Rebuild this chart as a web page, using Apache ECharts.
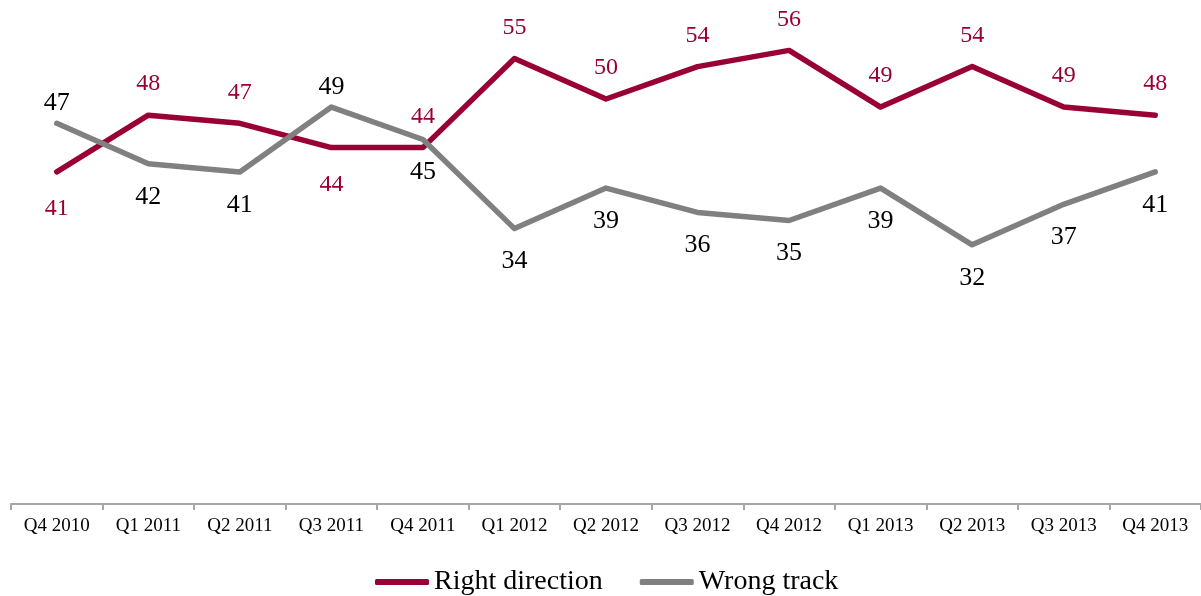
<!DOCTYPE html>
<html>
<head>
<meta charset="utf-8">
<script src="https://cdn.jsdelivr.net/npm/echarts@6/dist/echarts.min.js"></script>
<style>
html,body{margin:0;padding:0;background:#fff;}
#chart{width:1201px;height:596px;}
</style>
</head>
<body>
<div id="chart"></div>
<script>
const categories = ["Q4 2010","Q1 2011","Q2 2011","Q3 2011","Q4 2011","Q1 2012","Q2 2012","Q3 2012","Q4 2012","Q1 2013","Q2 2013","Q3 2013","Q4 2013"];
const rightDirection = [41,48,47,44,44,55,50,54,56,49,54,49,48];
const wrongTrack = [47,42,41,49,45,34,39,36,35,39,32,37,41];
const rightBelowIdx = [0,3];
const wrongAboveIdx = [0,3];

const FONT = '"Liberation Serif", "DejaVu Serif", serif';
const RED = '#990033';
const GRAY = '#808080';

function build(values, idx, isRed){
  return values.map((v,i)=>{
    let pos;
    if(isRed){ pos = idx.includes(i) ? 'bottom' : 'top'; }
    else { pos = idx.includes(i) ? 'top' : 'bottom'; }
    let dist;
    if(isRed){ dist = pos==='top' ? 19 : 25; }
    else { dist = pos==='top' ? 7 : 20; }
    return {value:v, label:{position:pos, distance:dist}};
  });
}

const chart = echarts.init(document.getElementById('chart'));
chart.setOption({
  animation:false,
  backgroundColor:'#fff',
  grid:{left:11, right:0, top:18, bottom:92, containLabel:false},
  legend:{
    top:563, left:370,
    itemWidth:54, itemHeight:6, itemGap:37,
    icon:'roundRect',
    textStyle:{fontFamily:FONT, fontSize:28, color:'#000', padding:[0,0,0,0]},
    data:['Right direction','Wrong track']
  },
  xAxis:{
    type:'category', data:categories, boundaryGap:true,
    axisLine:{lineStyle:{color:'#a6a6a6', width:2}},
    axisTick:{show:true, length:6, lineStyle:{color:'#a6a6a6', width:2}},
    axisLabel:{fontFamily:FONT, fontSize:19, color:'#000', margin:13, interval:0}
  },
  yAxis:{
    type:'value', min:0, max:60, interval:10, show:false,
    splitLine:{show:false}
  },
  series:[
    {
      name:'Right direction', type:'line', data:build(rightDirection, rightBelowIdx, true),
      showSymbol:true, symbol:'circle', symbolSize:0,
      lineStyle:{color:RED, width:5.5, cap:'round', join:'round'},
      itemStyle:{color:RED},
      label:{show:true, fontFamily:FONT, fontSize:24, color:RED}
    },
    {
      name:'Wrong track', type:'line', data:build(wrongTrack, wrongAboveIdx, false),
      showSymbol:true, symbol:'circle', symbolSize:0,
      lineStyle:{color:GRAY, width:5.5, cap:'round', join:'round'},
      itemStyle:{color:GRAY},
      label:{show:true, fontFamily:FONT, fontSize:26, color:'#000'}
    }
  ]
});
</script>
</body>
</html>
